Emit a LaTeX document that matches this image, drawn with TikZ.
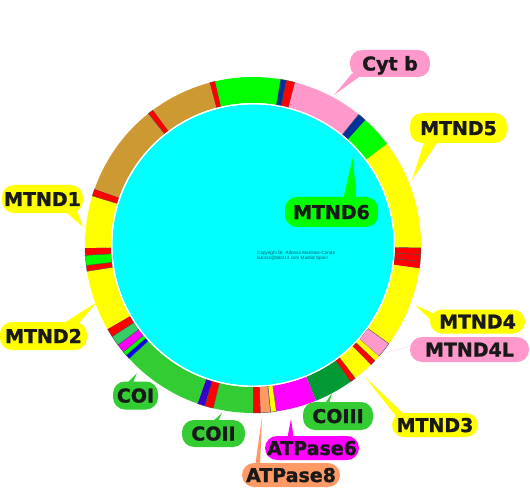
\documentclass[tikz,border=0pt]{standalone}
\usepackage{fontspec}
\usepackage{tikz}
\usetikzlibrary{calc,positioning}
\newfontfamily\tagfont{DejaVu Sans}[BoldFeatures={FakeBold=1.3}]
\newfontfamily\notefont{Liberation Sans}
\definecolor{cytpink}{RGB}{255,153,204}
\definecolor{ndyellow}{RGB}{255,255,0}
\definecolor{brightgreen}{RGB}{0,255,0}
\definecolor{cogreen}{RGB}{51,204,51}
\definecolor{cothreegreen}{RGB}{0,153,51}
\definecolor{atpmag}{RGB}{255,0,255}
\definecolor{atpsalmon}{RGB}{255,153,102}
\definecolor{rrnatan}{RGB}{204,153,51}
\definecolor{navyblue}{RGB}{0,51,153}
\definecolor{seagreen}{RGB}{51,204,102}
\definecolor{violetblue}{RGB}{51,0,204}
\definecolor{ringcyan}{RGB}{0,255,255}
\definecolor{notecol}{RGB}{10,90,110}
\newcommand{\ringin}{142}
\newcommand{\ringout}{168}
\newcommand{\ringpart}[3]{%
  \fill[#1] (#2:\ringin) -- (#2:\ringout) arc[start angle=#2, end angle=#3, radius=\ringout]
    -- (#3:\ringin) arc[start angle=#3, end angle=#2, radius=\ringin] -- cycle;}
\pgfdeclarelayer{front}
\pgfsetlayers{main,front}

\begin{document}
\begin{tikzpicture}[x=1pt,y=1pt,
  tag/.style={rounded corners=12pt, inner sep=0pt, text height=14pt, text depth=0pt,
    font=\tagfont\bfseries\fontsize{19pt}{19pt}\selectfont, text=black!90},
  stripe/.style={draw=black!70, line width=0.4pt}]
\useasboundingbox (0,0) rectangle (530,488);
\coordinate (ctr) at (253,243);
% genome ring, clockwise from the top
\begin{scope}[shift={(ctr)}]
\ringpart{red,stripe}{105}{103}
\ringpart{brightgreen}{103}{80.5}
\ringpart{navyblue,stripe}{80.5}{78.5}
\ringpart{red,stripe}{78.5}{75.5}
\ringpart{cytpink}{75.5}{51}
\ringpart{navyblue,stripe}{51}{48}
\ringpart{brightgreen}{48}{37}
\ringpart{ndyellow}{37}{-1}
\ringpart{red,stripe}{-1}{-3.3}
\ringpart{red,stripe}{-3.3}{-5.6}
\ringpart{red,stripe}{-5.6}{-8}
\ringpart{ndyellow}{-8}{-36}
\ringpart{cytpink,stripe}{-36}{-41.5}
\ringpart{ndyellow}{-41.5}{-43.5}
\ringpart{red,stripe}{-43.5}{-45.5}
\ringpart{ndyellow}{-45.5}{-52.5}
\ringpart{red,stripe}{-52.5}{-54.5}
\ringpart{cothreegreen}{-54.5}{-68}
\ringpart{atpmag}{-68}{-82}
\ringpart{ndyellow,stripe}{-82}{-84}
\ringpart{atpsalmon,stripe}{-84}{-87.5}
\ringpart{red,stripe}{-87.5}{-90}
\ringpart{cogreen}{-90}{-103.7}
\ringpart{red,stripe}{-103.7}{-106.7}
\ringpart{violetblue,stripe}{-106.7}{-109.3}
\ringpart{cogreen}{-109.3}{-137.5}
\ringpart{blue,stripe}{-137.5}{-139}
\ringpart{brightgreen,stripe}{-139}{-140.5}
\ringpart{atpmag,stripe}{-140.5}{-143.5}
\ringpart{seagreen,stripe}{-143.5}{-147}
\ringpart{red,stripe}{-147}{-150}
\ringpart{ndyellow}{-150}{-171}
\ringpart{red,stripe}{-171}{-173}
\ringpart{brightgreen,stripe}{-173}{-176.5}
\ringpart{red,stripe}{-176.5}{-179}
\ringpart{ndyellow}{-179}{-197}
\ringpart{red,stripe}{-197}{-199.5}
\ringpart{rrnatan}{-199.5}{-231.5}
\ringpart{red,stripe}{-231.5}{-233.5}
\ringpart{rrnatan}{-233.5}{-255}
% inner disc
\fill[ringcyan] (0,0) circle[radius=140.6];
\draw[white,line width=1.3pt] (0,0) circle[radius=141.3];
\end{scope}
\node[font=\notefont\fontsize{4.6pt}{5.4pt}\selectfont, text=notecol, align=left, anchor=north west, inner sep=0pt] (note) at (257,237) {Copyright Dr. Alfonso Martinez-Conde\\lab314@lab314.com Madrid Spain};
% gene labels
\begin{pgfonlayer}{front}
\node[tag, fill=cytpink, minimum width=80pt, minimum height=27pt] (cytb) at (390,424.5) {Cyt b};
\node[tag, fill=ndyellow, minimum width=97pt, minimum height=30pt] (mtnd5) at (458.5,360) {MTND5};
\node[tag, fill=brightgreen, minimum width=93pt, minimum height=30pt] (mtnd6) at (331.5,276) {MTND6};
\node[tag, fill=ndyellow, minimum width=81pt, minimum height=28pt] (mtnd1) at (42.5,289) {MTND1};
\node[tag, fill=ndyellow, minimum width=87pt, minimum height=28pt] (mtnd2) at (43.5,152) {MTND2};
\node[tag, fill=ndyellow, minimum width=95pt, minimum height=24pt] (mtnd4) at (477.5,166.5) {MTND4};
\node[tag, fill=cytpink, minimum width=119pt, minimum height=25pt] (mtnd4l) at (469.5,138.5) {MTND4L};
\node[tag, fill=ndyellow, minimum width=86pt, minimum height=24pt] (mtnd3) at (435,63) {MTND3};
\node[tag, fill=cogreen, minimum width=70pt, minimum height=28pt] (co3) at (338,72) {COIII};
\node[tag, fill=atpmag, minimum width=94pt, minimum height=24pt] (atp6) at (312,40) {ATPase6};
\node[tag, fill=atpsalmon, minimum width=98pt, minimum height=24pt] (atp8) at (291,13) {ATPase8};
\node[tag, fill=cogreen, minimum width=63pt, minimum height=27pt] (co2) at (213.5,54.5) {COII};
\node[tag, fill=cogreen, minimum width=45pt, minimum height=28pt] (co1) at (135.5,92.5) {COI};
\end{pgfonlayer}
% pointers from the labels to the ring
\coordinate (cytb-tip) at (334,393);
\coordinate (mtnd5-tip) at (412,308);
\coordinate (mtnd6-tip) at (353,331);
\coordinate (mtnd1-tip) at (83,261);
\coordinate (mtnd2-tip) at (97,186);
\coordinate (mtnd4-tip) at (415,183);
\coordinate (mtnd4l-tip) at (385,135);
\coordinate (mtnd3-tip) at (365,111);
\coordinate (co3-tip) at (332,95);
\coordinate (atp6-tip) at (291,69);
\coordinate (atp8-tip) at (262,71);
\coordinate (co2-tip) at (222,75);
\coordinate (co1-tip) at (137,115);
\fill[cytpink] ($(cytb)+(-38,-10)$) -- (cytb-tip) -- ($(cytb)+(-26,-10)$) -- cycle;
\fill[ndyellow] ($(mtnd5)+(-33,-10)$) -- (mtnd5-tip) -- ($(mtnd5)+(-18,-10)$) -- cycle;
\fill[brightgreen] ($(mtnd6)+(11,10)$) -- (mtnd6-tip) -- ($(mtnd6)+(25,10)$) -- cycle;
\fill[ndyellow] ($(mtnd1)+(20,-10)$) -- (mtnd1-tip) -- ($(mtnd1)+(34,-10)$) -- cycle;
\fill[ndyellow] ($(mtnd2)+(16,10)$) -- (mtnd2-tip) -- ($(mtnd2)+(33,10)$) -- cycle;
\fill[ndyellow] ($(mtnd4)+(-40,6)$) -- (mtnd4-tip) -- ($(mtnd4)+(-40,-5)$) -- cycle;
\fill[cytpink] ($(mtnd4l)+(-52,5)$) -- (mtnd4l-tip) -- ($(mtnd4l)+(-40,8)$) -- cycle;
\fill[ndyellow] ($(mtnd3)+(-36,5)$) -- (mtnd3-tip) -- ($(mtnd3)+(-28,8)$) -- cycle;
\fill[cogreen] ($(co3)+(-16,8)$) -- (co3-tip) -- ($(co3)+(-10,8)$) -- cycle;
\fill[atpmag] ($(atp6)+(-25,8)$) -- (atp6-tip) -- ($(atp6)+(-18,8)$) -- cycle;
\fill[atpsalmon] ($(atp8)+(-36,8)$) -- (atp8-tip) -- ($(atp8)+(-31,8)$) -- cycle;
\fill[cogreen] ($(co2)+(-4,9)$) -- (co2-tip) -- ($(co2)+(3,9)$) -- cycle;
\fill[cogreen] ($(co1)+(-12,9)$) -- (co1-tip) -- ($(co1)+(-4,9)$) -- cycle;
\end{tikzpicture}
\end{document}
